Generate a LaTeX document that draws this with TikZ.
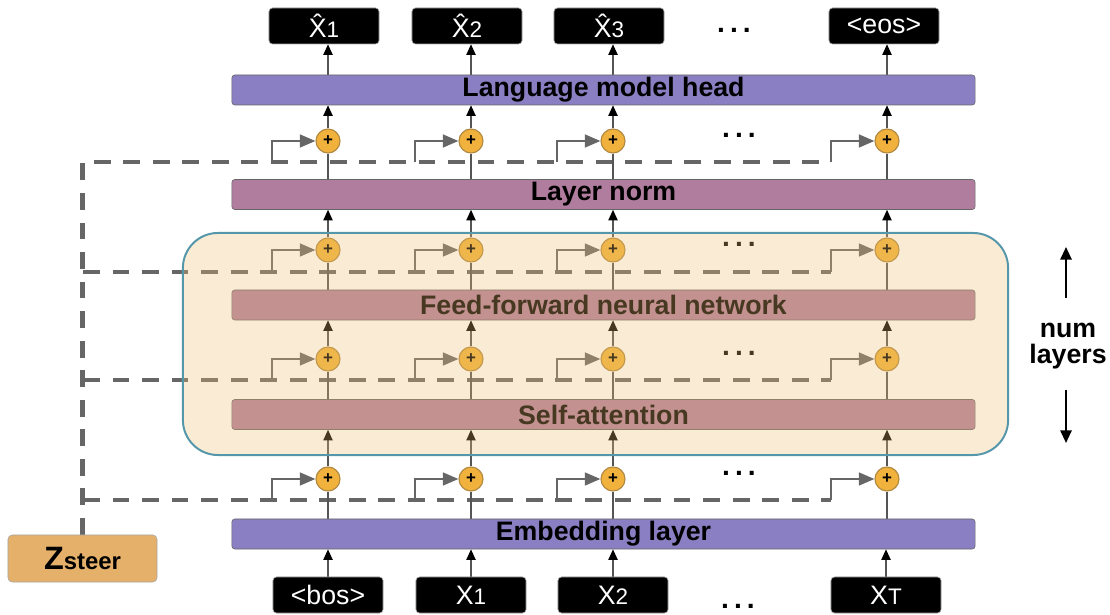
\documentclass[tikz,border=0pt]{standalone}
\usepackage{fontspec}
\setmainfont{Liberation Sans}
\usetikzlibrary{arrows.meta,positioning}
\definecolor{headColor}{RGB}{138,127,194}
\definecolor{normColor}{RGB}{176,125,158}
\definecolor{steerColor}{RGB}{228,176,106}
\definecolor{plusColor}{RGB}{240,178,60}
\definecolor{plusEdge}{RGB}{176,136,64}
\definecolor{blockEdge}{RGB}{84,150,170}
\definecolor{blockTint}{RGB}{238,192,112}
\definecolor{penColor}{RGB}{85,85,85}
\definecolor{dashColor}{RGB}{102,102,102}
\pgfdeclarelayer{back}
\pgfdeclarelayer{front}
\pgfsetlayers{back,main,front}
\newcommand{\barfont}{\fontsize{19}{22}\selectfont\bfseries}
\newcommand{\tokfont}{\fontsize{19}{22}\selectfont}
\newcommand{\idx}[1]{{\fontsize{16}{16}\selectfont #1}}
\newcommand{\moredots}{{\fontsize{20}{22}\selectfont\bfseries .\kern3.6pt.\kern3.6pt.}}
\tikzset{
  layerbar/.style={draw=gray!80!black, rounded corners=2pt, minimum width=18.575cm,
    minimum height=0.75cm, font=\barfont, inner sep=0pt},
  tokbox/.style={fill=black, draw=gray!70, rounded corners=2.5pt, minimum width=2.75cm,
    minimum height=0.9cm, text=white, font=\tokfont, inner sep=0pt},
  plus/.style={circle, fill=plusColor, draw=plusEdge, line width=0.8pt, minimum size=0.6cm,
    inner sep=0pt, font=\fontsize{12}{12}\selectfont\bfseries},
  flow/.style={draw=penColor, line width=1.1pt, -{Triangle[length=7.5pt,width=6.5pt,color=black]}},
  link/.style={draw=penColor, line width=1.1pt},
  steer/.style={draw=dashColor, line width=3pt, dash pattern=on 12pt off 9pt},
  branch/.style={draw=dashColor, line width=1.6pt, -{Triangle[length=11pt,width=9pt]}},
  bigarrow/.style={draw=black, line width=1.5pt, -{Triangle[length=9pt,width=8pt]}}
}
\begin{document}
\begin{tikzpicture}[x=0.025cm,y=-0.025cm]
  \useasboundingbox (0,0) rectangle (1110,615);
  % bars
  \node[layerbar, fill=headColor] (lmh) at (603.5,90) {Language model head};
  \node[layerbar, fill=normColor] (ln) at (603.5,194.5) {Layer norm};
  \node[layerbar, fill=normColor] (ffn) at (603.5,305) {Feed-forward neural network};
  \node[layerbar, fill=normColor] (sattn) at (603.5,414.5) {Self-attention};
  \node[layerbar, fill=headColor] (emb) at (603.5,534) {Embedding layer};
  % tokens
  \node[tokbox] (x1) at (328,595) {<bos>};
  \node[tokbox] (x2) at (471,595) {X\idx{1}};
  \node[tokbox] (x3) at (613,595) {X\idx{2}};
  \node[tokbox] (x4) at (886,595) {X\idx{T}};
  \node[tokbox] (y1) at (324,26) {\^{X}\idx{1}};
  \node[tokbox] (y2) at (467,26) {\^{X}\idx{2}};
  \node[tokbox] (y3) at (609,26) {\^{X}\idx{3}};
  \node[tokbox] (y4) at (884,26) {<eos>};
  \node (d0) at (734,30) {\moredots};
  \node (d5) at (738,606) {\moredots};
  % steering vector
  \node[fill=steerColor, draw=gray!70, rounded corners=3pt, minimum width=3.725cm,
    minimum height=1.175cm, inner sep=0pt] (zs) at (82.5,558.5)
    {\bfseries{\fontsize{23}{23}\selectfont Z}{\fontsize{17}{17}\selectfont steer}};
  \node[font=\barfont, align=center] (nl) at (1068,346) {num\\[-3pt]layers};
  \coordinate (u0) at (1066,298);
  \coordinate (u1) at (1066,247);
  \coordinate (v0) at (1066,390);
  \coordinate (v1) at (1066,443);
  \draw[bigarrow] (u0) -- (u1);
  \draw[bigarrow] (v0) -- (v1);
  % residual adds
  \foreach \r/\ry/\dy in {1/141/162, 2/250/272, 3/359/380, 4/479/500} {
    \foreach \c/\cx in {1/328, 2/471, 3/613, 4/887} {
      \node[plus] (p\r\c) at (\cx,\ry) {+};
      \coordinate (b\r\c) at (\cx-56,\dy);
    }
    \coordinate (t\r) at (83,\dy);
    \node (d\r) at (739,\ry-6) {\moredots};
  }
  \begin{pgfonlayer}{back}
    \draw[steer] (zs.north) |- (b14);
    \foreach \r in {2,3,4}
      \draw[steer] (t\r) -- (b\r4);
    \foreach \r in {1,...,4}
      \foreach \c in {1,...,4}
        \draw[branch] (b\r\c) |- (p\r\c.west);
    \foreach \c in {1,...,4} {
      \draw[flow] (x\c.north) -- (x\c.north |- emb.south);
      \draw[link] (p4\c |- emb.north) -- (p4\c.south);
      \draw[flow] (p4\c.north) -- (p4\c |- sattn.south);
      \draw[link] (p4\c |- sattn.north) -- (p3\c.south);
      \draw[flow] (p3\c.north) -- (p3\c |- ffn.south);
      \draw[link] (p3\c |- ffn.north) -- (p2\c.south);
      \draw[flow] (p2\c.north) -- (p2\c |- ln.south);
      \draw[link] (p2\c |- ln.north) -- (p1\c.south);
      \draw[flow] (p1\c.north) -- (p1\c |- lmh.south);
      \draw[flow] (p1\c |- lmh.north) -- (p1\c |- y\c.south);
    }
  \end{pgfonlayer}
  \begin{pgfonlayer}{front}
    \node[draw=blockEdge, line width=1.4pt, fill=blockTint, fill opacity=0.3,
      rounded corners=0.875cm, minimum width=20.625cm, minimum height=5.55cm] (stack) at (595.5,344) {};
  \end{pgfonlayer}
\end{tikzpicture}
\end{document}
